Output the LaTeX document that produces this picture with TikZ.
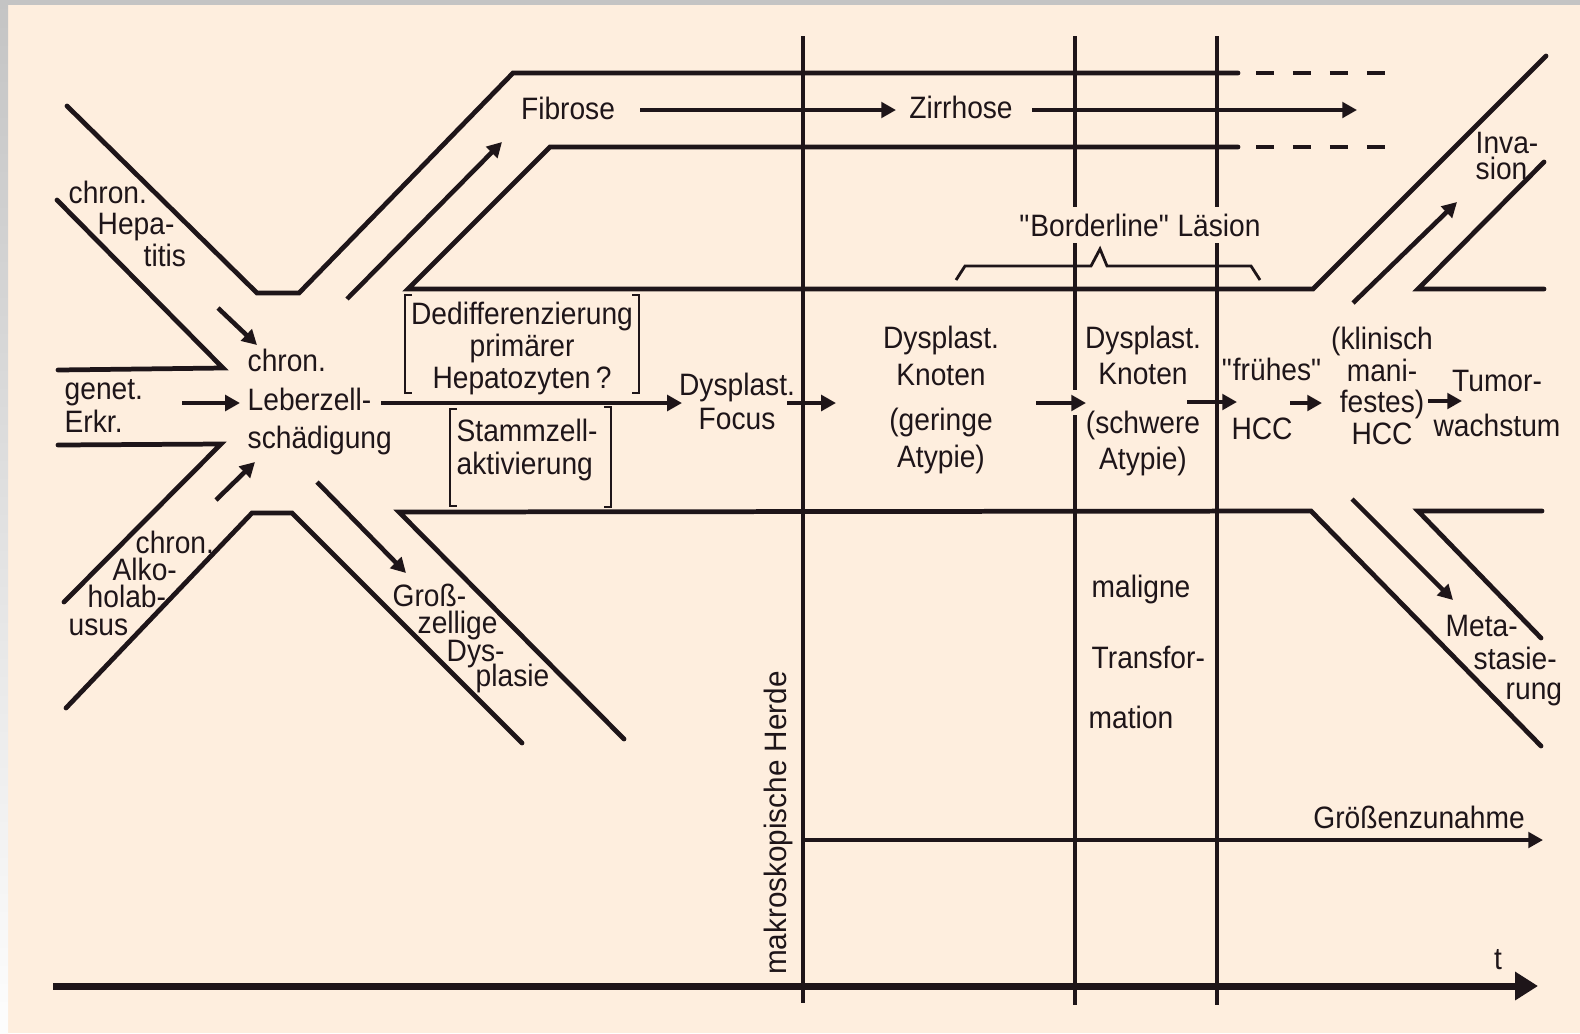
\documentclass[tikz,border=0pt]{standalone}
\usepackage{fontspec}
\setmainfont{Liberation Sans}[FakeStretch=0.91]
\newfontfamily\herdefont{Liberation Sans}[FakeStretch=0.96]
\usepackage{tikz}
\usetikzlibrary{arrows.meta}
\definecolor{paper}{HTML}{FEEEDE}
\definecolor{ink}{HTML}{1E1519}
\definecolor{frame}{HTML}{C4C4C4}
\tikzset{
  wall/.style={draw=ink, line width=1.35pt, line cap=round},
  dashwall/.style={draw=ink, line width=1.35pt, dash pattern=on 5.1pt off 5.4pt},
  timeline/.style={draw=ink, line width=1.1pt},
  flow/.style={draw=ink, line width=1.3pt, -{Triangle[length=4.2pt,width=4.4pt]}},
  axis/.style={draw=ink, line width=2pt, -{Triangle[length=6.5pt,width=7.7pt]}},
  bracket/.style={draw=ink, line width=0.8pt},
  lbl/.style={text=ink, inner sep=0pt, font=\fontsize{8.8}{10}\selectfont},
  word/.style={lbl, anchor=west, text height=5.5pt, text depth=0.5pt},
  lead/.style={font=\fontsize{8.8}{#1}\selectfont}
}

\begin{document}
\begin{tikzpicture}[x=0.01cm, y=-0.01cm]
  % paper and frame
  \fill[paper] (0,0) rectangle (1580,1033);
  \useasboundingbox (0,0) rectangle (1580,1033);
  \fill[frame] (0,0) rectangle (1580,5);
  \shade[top color=frame, bottom color=white!97!frame] (0,0) rectangle (8,1033);

  % channels
  \draw[wall] (67,106) -- (257,293) -- (299,293) -- (513,73) -- (1238,73);
  \draw[wall] (1238,147) -- (550,147) -- (408,289) -- (1313,289) -- (1546,56);
  \draw[dashwall] (1256,73) -- (1386,73);
  \draw[dashwall] (1256,147) -- (1386,147);
  \draw[wall] (57,200) -- (223,368) -- (58,370);
  \draw[wall] (58,445) -- (221,444) -- (64,602);
  \draw[wall] (66,708) -- (252,513) -- (292,513) -- (522,743);
  \draw[wall] (624,739) -- (399,512) -- (1311,511) -- (1541,746);
  \draw[wall] (1541,638) -- (1418,511) -- (1542,511);
  \draw[wall] (1544,162) -- (1418,289) -- (1544,289);

  % time marks
  \draw[timeline] (803,36) -- (803,1003);
  \draw[timeline] (1075,36) -- (1075,207) (1075,243) -- (1075,390) (1075,415) -- (1075,1005);
  \draw[timeline] (1217,36) -- (1217,207) (1217,243) -- (1217,1005);

  % labels
  \node[lbl] (fib) at (568,108) {Fibrose};
  \node[lbl] (zir) at (961,107) {Zirrhose};
  \node[lbl] (border) at (1140,225) {\textquotedbl Borderline\textquotedbl\ Läsion};
  \node[lbl, align=left, anchor=west, lead=11pt] (leber) at (247,402) {chron.\\Leberzell-\\schädigung};
  \node[lbl, align=left, anchor=west, lead=9.2pt] (genet) at (64,406) {genet.\\Erkr.};
  \node[lbl, align=center, lead=9.1pt] (dediff) at (522,348) {Dedifferenzierung\\primärer\\Hepatozyten\,?};
  \node[lbl, align=left, anchor=west, lead=9.4pt] (stamm) at (456,450) {Stammzell-\\aktivierung};
  \node[lbl, align=center, lead=9.7pt] (focus) at (737,401) {Dysplast.\\Focus};
  \node[lbl, align=center, lead=10.6pt] (knotA) at (941,400) {Dysplast.\\Knoten\\[2.3pt](geringe\\Atypie)};
  \node[lbl, align=center, lead=10pt] (knotB) at (1143,401) {Dysplast.\\Knoten\\[4.2pt](schwere\\Atypie)};
  \node[lbl] (frueh) at (1272,369) {\textquotedbl frühes\textquotedbl};
  \node[lbl] (hccA) at (1262,429) {HCC};
  \node[lbl, align=center, lead=9pt] (klin) at (1382,386) {(klinisch\\mani-\\festes)\\HCC};
  \node[lbl, align=center, lead=12.8pt] (tumor) at (1497,403) {Tumor-\\wachstum};
  \node[lbl] (groesse) at (1419,817) {Größenzunahme};
  \node[lbl] (tlbl) at (1498,960) {t};
  \node[lbl, rotate=90, font=\herdefont\fontsize{8.8}{10}\selectfont] (herde) at (778,823) {makroskopische Herde};
  \foreach \txt/\x/\y [count=\i] in {chron./68/195, Hepa-/97/226, titis/143/258}
    \node[word] (hep\i) at (\x,\y) {\txt};
  \foreach \txt/\x/\y [count=\i] in {chron./135/545, Alko-/112/572, holab-/87/599, usus/68/627}
    \node[word] (alk\i) at (\x,\y) {\txt};
  \foreach \txt/\x/\y [count=\i] in {Groß-/392/598, zellige/417/625, Dys-/446/653, plasie/475/678}
    \node[word] (gross\i) at (\x,\y) {\txt};
  \foreach \txt/\x/\y [count=\i] in {Meta-/1445/628, stasie-/1473/661, rung/1505/691}
    \node[word] (meta\i) at (\x,\y) {\txt};
  \foreach \txt/\x/\y [count=\i] in {Inva-/1475/145, sion/1475/171}
    \node[word] (inv\i) at (\x,\y) {\txt};
  \foreach \txt/\x/\y [count=\i] in {maligne/1091/589, Transfor-/1091/660, mation/1088/720}
    \node[word] (mal\i) at (\x,\y) {\txt};

  % brackets and brace
  \draw[bracket] (412,295) -- (405,295) -- (405,393) -- (412,393);
  \draw[bracket] (632,295) -- (639,295) -- (639,393) -- (632,393);
  \draw[bracket] (457,409) -- (450,409) -- (450,506) -- (457,506);
  \draw[bracket] (604,407) -- (611,407) -- (611,507) -- (604,507);
  \draw[bracket] (956,280) -- (965,266) -- (1091,266) -- (1100,249) -- (1107,266) -- (1251,266) -- (1260,280);

  % arrow ends
  \coordinate (hepS) at (218,308);   \coordinate (hepE) at (257,345);
  \coordinate (genS) at (182,403);   \coordinate (genE) at (240,403);
  \coordinate (alkS) at (216,500);   \coordinate (alkE) at (255,462);
  \coordinate (fibS) at (347,299);   \coordinate (fibE) at (502,142);
  \coordinate (grS) at (317,482);    \coordinate (grE) at (406,573);
  \coordinate (leberOut) at (381,403); \coordinate (focusIn) at (682,403);
  \coordinate (fibOut) at (640,110); \coordinate (zirIn) at (896,110);
  \coordinate (zirOut) at (1032,110); \coordinate (zirEnd) at (1357,110);
  \coordinate (focusOut) at (787,403); \coordinate (knotAIn) at (836,403);
  \coordinate (knotAOut) at (1036,403); \coordinate (knotBIn) at (1086,403);
  \coordinate (knotBOut) at (1187,402); \coordinate (fruehIn) at (1237,402);
  \coordinate (hccOut) at (1290,403); \coordinate (klinIn) at (1322,403);
  \coordinate (klinOut) at (1428,401); \coordinate (tumorIn) at (1462,401);
  \coordinate (invS) at (1353,303);  \coordinate (invE) at (1457,202);
  \coordinate (metS) at (1352,499);  \coordinate (metE) at (1453,600);
  \coordinate (sizeS) at (803,840);  \coordinate (sizeE) at (1543,840);
  \coordinate (tS) at (53,986);      \coordinate (tE) at (1538,986);

  % arrows
  \draw[flow] (hepS) -- (hepE);
  \draw[flow] (genS) -- (genE);
  \draw[flow] (alkS) -- (alkE);
  \draw[flow] (fibS) -- (fibE);
  \draw[flow] (grS) -- (grE);
  \draw[flow] (leberOut) -- (focusIn);
  \draw[flow] (fibOut) -- (zirIn);
  \draw[flow] (zirOut) -- (zirEnd);
  \draw[flow] (focusOut) -- (knotAIn);
  \draw[flow] (knotAOut) -- (knotBIn);
  \draw[flow] (knotBOut) -- (fruehIn);
  \draw[flow] (hccOut) -- (klinIn);
  \draw[flow] (klinOut) -- (tumorIn);
  \draw[flow] (invS) -- (invE);
  \draw[flow] (metS) -- (metE);
  \draw[flow] (sizeS) -- (sizeE);
  \draw[axis] (tS) -- (tE);
\end{tikzpicture}
\end{document}
